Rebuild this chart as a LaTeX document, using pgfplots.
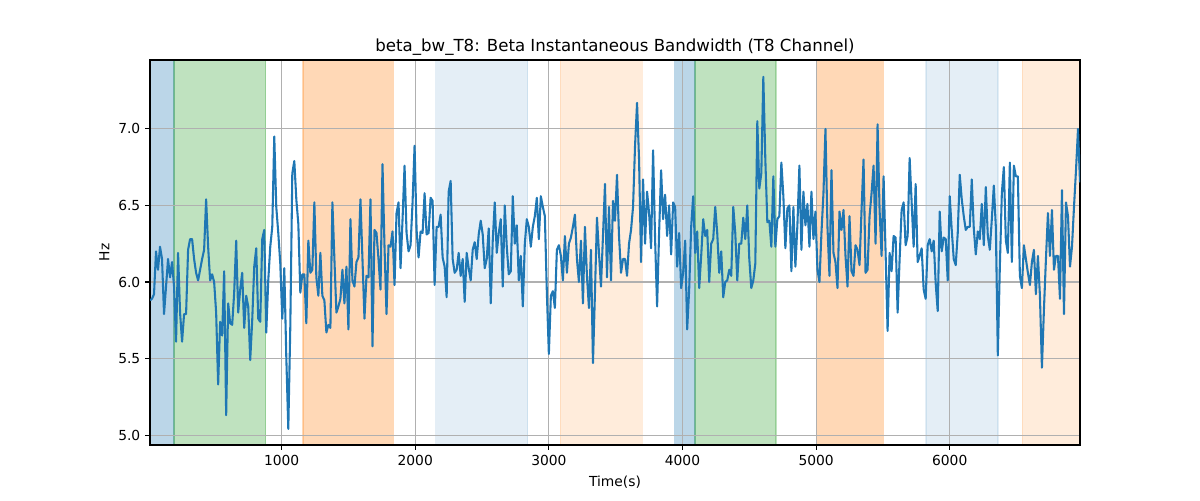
\documentclass[border=0pt]{standalone}
\usepackage{pgfplots}
\pgfplotsset{compat=1.18}
\usepackage{pgfplotstable}
\usepackage{fontspec}
\setmainfont{DejaVu Sans}
\definecolor{tabblue}{HTML}{1F77B4}
\definecolor{tabgreen}{HTML}{2CA02C}
\definecolor{taborange}{HTML}{FF7F0E}
\definecolor{gridgray}{HTML}{B0B0B0}
\pgfplotstableread{
x y
15 5.88
30 5.89
45 5.92
60 6.20
75 6.08
90 6.23
105 6.15
120 5.79
135 5.97
150 6.15
165 6.03
180 6.13
195 5.97
210 5.61
225 6.19
240 5.80
255 5.61
270 5.79
285 5.79
300 6.21
315 6.28
330 6.28
345 6.15
360 6.06
375 6.01
390 6.08
405 6.15
420 6.21
435 6.54
450 6.23
465 6.01
480 6.05
495 6.00
510 5.80
525 5.33
540 5.74
555 5.65
570 6.07
585 5.13
600 5.86
615 5.73
630 5.72
645 5.93
660 6.27
675 5.80
690 5.95
705 6.06
720 5.70
735 5.91
750 5.84
765 5.49
780 5.75
795 6.10
810 6.22
825 5.76
840 5.74
855 6.28
870 6.34
885 5.67
900 6.01
915 6.23
930 6.36
945 6.95
960 6.49
975 6.32
990 6.12
1005 5.76
1020 6.09
1035 5.51
1050 5.04
1065 5.71
1080 6.71
1095 6.79
1110 6.54
1125 6.38
1140 5.93
1155 6.05
1170 6.05
1185 5.73
1200 6.27
1215 6.06
1230 6.08
1245 6.52
1260 6.03
1275 5.91
1290 6.19
1305 5.91
1320 5.88
1335 5.67
1350 5.72
1365 5.70
1380 6.52
1395 6.15
1410 5.80
1425 5.84
1440 5.89
1455 6.08
1470 5.86
1485 6.10
1500 5.69
1515 6.41
1530 6.01
1545 5.97
1560 6.13
1575 6.16
1590 6.54
1605 6.15
1620 5.76
1635 6.04
1650 6.03
1665 6.54
1680 5.58
1695 6.34
1710 6.32
1725 6.15
1740 5.95
1755 6.77
1770 6.23
1785 5.79
1800 6.24
1815 6.23
1830 6.33
1845 5.98
1860 6.45
1875 6.52
1890 6.09
1905 6.41
1920 6.76
1935 6.32
1950 6.20
1965 6.24
1980 6.52
1995 6.89
2010 6.34
2025 6.16
2040 6.33
2055 6.32
2070 6.58
2085 6.31
2100 6.32
2115 6.55
2130 6.53
2145 5.98
2160 6.36
2175 6.36
2190 6.44
2205 6.16
2220 6.10
2235 5.90
2250 6.59
2265 6.66
2280 6.15
2295 6.06
2310 6.08
2325 6.19
2340 6.04
2355 6.15
2370 5.87
2385 6.19
2400 6.09
2415 6.01
2430 6.21
2445 6.26
2460 6.15
2475 6.31
2490 6.40
2505 6.31
2520 6.09
2535 6.15
2550 6.35
2565 5.86
2580 6.27
2595 6.52
2610 6.19
2625 6.32
2640 6.41
2655 5.97
2670 6.50
2685 6.23
2700 6.05
2715 6.07
2730 6.56
2745 6.25
2760 6.37
2775 6.01
2790 6.17
2805 5.84
2820 6.25
2835 6.41
2850 6.36
2865 6.23
2880 6.36
2895 6.43
2910 6.55
2925 6.28
2940 6.56
2955 6.49
2970 6.43
2985 5.93
3000 5.53
3015 5.91
3030 5.94
3045 5.83
3060 6.21
3075 6.24
3090 6.17
3105 6.01
3120 6.30
3135 6.06
3150 6.25
3165 6.29
3180 6.36
3195 6.44
3210 6.15
3225 6.00
3240 6.27
3255 5.86
3270 6.36
3285 6.04
3300 5.83
3315 6.21
3330 5.47
3345 5.93
3360 6.42
3375 6.19
3390 5.97
3405 6.30
3420 6.64
3435 6.03
3450 6.49
3465 6.01
3480 6.53
3495 6.40
3510 6.70
3525 6.30
3540 6.06
3555 6.15
3570 6.15
3585 6.04
3600 6.25
3615 6.34
3630 6.49
3645 6.89
3660 7.17
3675 6.80
3690 6.13
3705 6.67
3720 6.25
3735 6.59
3750 6.45
3765 6.22
3780 6.86
3795 6.28
3810 5.84
3825 6.32
3840 6.73
3855 6.41
3870 6.57
3885 6.30
3900 6.50
3915 6.18
3930 6.52
3945 6.49
3960 6.10
3975 6.32
3990 5.96
4005 6.06
4020 6.27
4035 5.69
4050 5.95
4065 6.36
4080 6.56
4095 6.19
4110 6.33
4125 5.96
4140 6.17
4155 6.41
4170 6.30
4185 6.34
4200 6.00
4215 6.25
4230 6.28
4245 6.49
4260 6.32
4275 6.06
4290 6.20
4305 5.90
4320 6.00
4335 6.01
4350 6.08
4365 6.04
4380 6.49
4395 6.32
4410 6.01
4425 6.25
4440 6.25
4455 6.42
4470 6.28
4485 6.50
4500 6.15
4515 5.96
4530 6.01
4545 6.12
4560 7.05
4575 6.61
4590 6.71
4605 7.34
4620 6.80
4635 6.39
4650 6.40
4665 6.23
4680 6.69
4695 6.23
4710 6.41
4725 6.43
4740 6.78
4755 6.56
4770 6.22
4785 6.48
4800 6.50
4815 6.07
4830 6.49
4845 6.10
4860 6.37
4875 6.76
4890 6.21
4905 6.59
4920 6.37
4935 6.51
4950 6.23
4965 6.59
4980 6.28
4995 6.46
5010 6.08
5025 6.00
5040 6.32
5055 6.58
5070 7.00
5085 6.36
5100 6.04
5115 6.73
5130 6.19
5145 6.13
5160 5.96
5175 6.46
5190 6.34
5205 6.47
5220 6.17
5235 5.97
5250 6.43
5265 6.07
5280 6.04
5295 6.24
5310 6.21
5325 6.11
5340 6.47
5355 6.80
5370 6.06
5385 6.08
5400 6.43
5415 6.58
5430 6.76
5445 6.25
5460 7.03
5475 6.47
5490 6.17
5505 6.69
5520 6.19
5535 5.68
5550 6.19
5565 6.07
5580 6.30
5595 6.29
5610 5.80
5625 6.15
5640 6.47
5655 6.52
5670 6.24
5685 6.30
5700 6.81
5715 6.52
5730 6.23
5745 6.64
5760 6.13
5775 6.17
5790 6.22
5805 5.95
5820 5.89
5835 6.24
5850 6.28
5865 6.20
5880 6.27
5895 5.99
5910 5.81
5925 6.46
5940 6.20
5955 6.29
5970 6.28
5985 6.01
6000 6.56
6015 6.34
6030 6.15
6045 6.11
6060 6.32
6075 6.70
6090 6.54
6105 6.43
6120 6.34
6135 6.36
6150 6.36
6165 6.67
6180 6.35
6195 6.18
6210 6.33
6225 6.28
6240 6.51
6255 6.24
6270 6.62
6285 6.30
6300 6.21
6315 6.41
6330 6.63
6345 6.36
6360 5.52
6375 6.10
6390 6.58
6405 6.75
6420 6.27
6435 6.19
6450 6.78
6465 6.13
6480 6.76
6495 6.69
6510 6.69
6525 6.04
6540 5.96
6555 6.24
6570 6.15
6585 6.06
6600 5.98
6615 6.13
6630 6.21
6645 5.92
6660 6.17
6675 5.91
6690 5.44
6705 5.82
6720 6.15
6735 6.45
6750 6.17
6765 6.47
6780 6.08
6795 6.17
6810 6.17
6825 5.89
6840 6.60
6855 5.79
6870 6.52
6885 6.43
6900 6.10
6915 6.23
6930 6.49
6945 6.73
6960 7.00
6975 6.65
}\datatable
\begin{document}
\begin{tikzpicture}
\begin{axis}[
  name=ax,
  set layers,
  scale only axis,
  width=9.3in, height=3.85in,
  xmin=15, xmax=6975,
  ymin=4.935, ymax=7.45,
  xtick={1000,2000,3000,4000,5000,6000},
  ytick={5.0,5.5,6.0,6.5,7.0},
  tick pos=left,
  tick align=outside,
  major tick length=3.5pt,
  every tick/.style={black, line width=0.8pt},
  axis line style={black, line width=0.8pt},
  grid=major,
  major grid style={gridgray, line width=0.8pt},
  ticklabel style={font=\fontsize{10}{12}\selectfont},
  x tick label style={/pgf/number format/.cd, set thousands separator={}, assume math mode=true},
  y tick label style={/pgf/number format/.cd, fixed, fixed zerofill, precision=1, assume math mode=true},
  xlabel={Time(s)},
  ylabel={Hz},
  label style={font=\fontsize{10}{12}\selectfont},
  xlabel style={yshift=-0.6pt},
  ylabel style={yshift=-0.4pt},
  title={beta\_bw\_T8: Beta Instantaneous Bandwidth (T8 Channel)},
  title style={font=\fontsize{12}{14}\selectfont, yshift=-6.3pt},
]
\addplot[on layer=axis background, fill=tabblue, fill opacity=0.3, draw=tabblue, draw opacity=0.3, line width=1pt] coordinates {(15,4.935) (195,4.935) (195,7.45) (15,7.45)} -- cycle;
\addplot[on layer=axis background, fill=tabgreen, fill opacity=0.3, draw=tabgreen, draw opacity=0.3, line width=1pt] coordinates {(195,4.935) (880,4.935) (880,7.45) (195,7.45)} -- cycle;
\addplot[on layer=axis background, fill=taborange, fill opacity=0.3, draw=taborange, draw opacity=0.3, line width=1pt] coordinates {(1160,4.935) (1835,4.935) (1835,7.45) (1160,7.45)} -- cycle;
\addplot[on layer=axis background, fill=tabblue, fill opacity=0.12, draw=tabblue, draw opacity=0.12, line width=1pt] coordinates {(2153,4.935) (2842,4.935) (2842,7.45) (2153,7.45)} -- cycle;
\addplot[on layer=axis background, fill=taborange, fill opacity=0.15, draw=taborange, draw opacity=0.15, line width=1pt] coordinates {(3085,4.935) (3699,4.935) (3699,7.45) (3085,7.45)} -- cycle;
\addplot[on layer=axis background, fill=tabblue, fill opacity=0.3, draw=tabblue, draw opacity=0.3, line width=1pt] coordinates {(3942,4.935) (4095,4.935) (4095,7.45) (3942,7.45)} -- cycle;
\addplot[on layer=axis background, fill=tabgreen, fill opacity=0.3, draw=tabgreen, draw opacity=0.3, line width=1pt] coordinates {(4095,4.935) (4699,4.935) (4699,7.45) (4095,7.45)} -- cycle;
\addplot[on layer=axis background, fill=taborange, fill opacity=0.3, draw=taborange, draw opacity=0.3, line width=1pt] coordinates {(5002,4.935) (5504,4.935) (5504,7.45) (5002,7.45)} -- cycle;
\addplot[on layer=axis background, fill=tabblue, fill opacity=0.12, draw=tabblue, draw opacity=0.12, line width=1pt] coordinates {(5822,4.935) (6361,4.935) (6361,7.45) (5822,7.45)} -- cycle;
\addplot[on layer=axis background, fill=taborange, fill opacity=0.15, draw=taborange, draw opacity=0.15, line width=1pt] coordinates {(6544,4.935) (6975,4.935) (6975,7.45) (6544,7.45)} -- cycle;
\addplot[tabblue, line width=1.5pt, no markers, line join=round] table[x=x, y=y] {\datatable};
\end{axis}
\path[use as bounding box] ([shift={(-1.5in,-0.55in)}]ax.south west) rectangle ([shift={(1.2in,0.6in)}]ax.north east);
\end{tikzpicture}
\end{document}
